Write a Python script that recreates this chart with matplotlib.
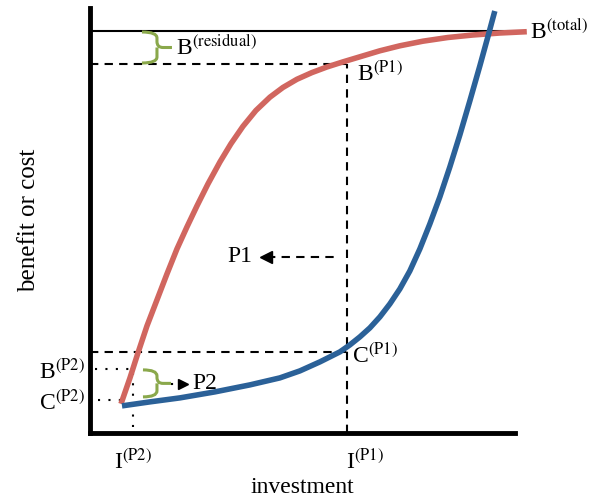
import numpy as np
import matplotlib
matplotlib.use('Agg')
import matplotlib.pyplot as plt
from matplotlib.path import Path
from matplotlib.patches import PathPatch

plt.rcParams['font.family'] = 'Liberation Serif'
plt.rcParams['mathtext.fontset'] = 'stix'

# curves (investment, value), axis units 0..425
benefit_x = [31, 40, 48, 57, 67, 77, 87, 97, 107, 118, 130, 141, 153, 166, 180, 193,
             207, 222, 237, 253, 270, 290, 310, 333, 358, 383, 410, 437]
benefit_y = [29, 55, 80, 107, 133, 159, 184, 206, 227, 249, 271, 289.2, 306.6, 322.5, 335.8, 345.5,
             353.7, 360.4, 366, 371.1, 376.2, 382.2, 387.2, 391.8, 395.5, 398, 400, 401.3]
cost_x = [32, 60, 90, 125, 160, 190, 210, 230, 250, 260, 270, 280, 290, 300, 310, 320,
          330, 340, 350, 360, 370, 380, 390, 398, 405]
cost_y = [27, 31, 35, 41, 48, 55, 62, 71, 81, 88, 96, 105, 116, 129, 144, 162,
          184, 209, 236, 266, 298, 332, 367, 396, 422]

b_total = 402
b_p1, c_p1, i_p1 = 369, 81, 257
b_p2, c_p2, i_p2 = 64, 33, 43

red = '#d1665f'
blue = '#2b6198'
green = '#8aa84b'

fig = plt.figure(figsize=(6, 5.01), dpi=100)
ax = fig.add_axes([0.15, 0.136, 0.708, 0.848])
ax.set_xlim(0, 425)
ax.set_ylim(0, 425)
for s in ['top', 'right']:
    ax.spines[s].set_visible(False)
for s in ['left', 'bottom']:
    ax.spines[s].set_linewidth(3.5)
ax.set_xticks([])
ax.set_yticks([])

ax.plot(benefit_x, benefit_y, color=red, lw=4, solid_capstyle='butt',
        solid_joinstyle='round', zorder=3, clip_on=False)
ax.plot(cost_x, cost_y, color=blue, lw=4, solid_capstyle='butt',
        solid_joinstyle='round', zorder=4, clip_on=False)

# total benefit
ax.plot([0, 435], [b_total, b_total], color='black', lw=1.5, clip_on=False, zorder=2)
# P1 guides
ax.plot([0, i_p1], [b_p1, b_p1], color='black', lw=1.5, ls=(0, (4, 3)), zorder=2)
ax.plot([0, i_p1], [c_p1, c_p1], color='black', lw=1.5, ls=(0, (4, 3)), zorder=2)
ax.plot([i_p1, i_p1], [0, b_p1], color='black', lw=1.5, ls=(0, (4, 3)), zorder=2)
# P2 guides
ax.plot([5, i_p2], [b_p2, b_p2], color='black', lw=1.5, ls=(0, (1, 4)), zorder=2)
ax.plot([8, 32], [c_p2, c_p2], color='black', lw=1.5, ls=(0, (1, 4)), zorder=2)
ax.plot([i_p2, i_p2], [6, b_p2], color='black', lw=1.5, ls=(0, (1, 4)), zorder=2)


def brace(x0, y0, y1, w):
    ym = (y0 + y1) / 2
    xm = x0 + w * 0.5
    r = min(6, (y1 - y0) / 4)
    verts = [(x0, y1), (xm, y1), (xm, y1 - r), (xm, ym + r), (xm, ym), (xm + r, ym), (x0 + w, ym),
             (xm, ym), (xm, ym - r), (xm, y0 + r), (xm, y0), (x0, y0)]
    codes = [Path.MOVETO, Path.CURVE3, Path.CURVE3, Path.LINETO, Path.CURVE3, Path.CURVE3, Path.LINETO,
             Path.MOVETO, Path.CURVE3, Path.LINETO, Path.CURVE3, Path.CURVE3]
    ax.add_patch(PathPatch(Path(verts, codes), fill=False, edgecolor=green, lw=2.2, zorder=5))


brace(52, b_p1 + 1, b_total - 1, 30)
brace(53, c_p2 + 3, b_p2 - 1, 28)

# P1 arrow
ax.plot([177, 247], [176, 176], color='black', lw=1.5, ls=(0, (4, 3)))
ax.plot([176], [176], marker='<', color='black', ms=8)
ax.text(137, 176, 'P1', fontsize=17, va='center', ha='left')

# P2 arrow
ax.plot([81, 90], [49, 49], color='black', lw=1.5, ls=(0, (1, 3)))
ax.plot([93], [49], marker='>', color='black', ms=7)
ax.text(102, 49, 'P2', fontsize=17, va='center', ha='left')

fs = 17
ax.text(440, b_total, r'B$^{\mathrm{(total)}}$', fontsize=fs, va='center', ha='left')
ax.text(86, b_total - 16, r'B$^{\mathrm{(residual)}}$', fontsize=fs, va='center', ha='left')
ax.text(267, b_p1 - 9, r'B$^{\mathrm{(P1)}}$', fontsize=fs, va='center', ha='left')
ax.text(262, c_p1 - 4, r'C$^{\mathrm{(P1)}}$', fontsize=fs, va='center', ha='left')
ax.text(-5, b_p2 - 3, r'B$^{\mathrm{(P2)}}$', fontsize=fs, va='center', ha='right')
ax.text(-5, c_p2 - 3, r'C$^{\mathrm{(P2)}}$', fontsize=fs, va='center', ha='right')
ax.text(24, -29, r'I$^{\mathrm{(P2)}}$', fontsize=fs, va='center', ha='left')
ax.text(256, -29, r'I$^{\mathrm{(P1)}}$', fontsize=fs, va='center', ha='left')

ax.set_xlabel('investment', fontsize=17, labelpad=32)
ax.set_ylabel('benefit or cost', fontsize=18, labelpad=36)

fig.savefig('out.png', dpi=100)
